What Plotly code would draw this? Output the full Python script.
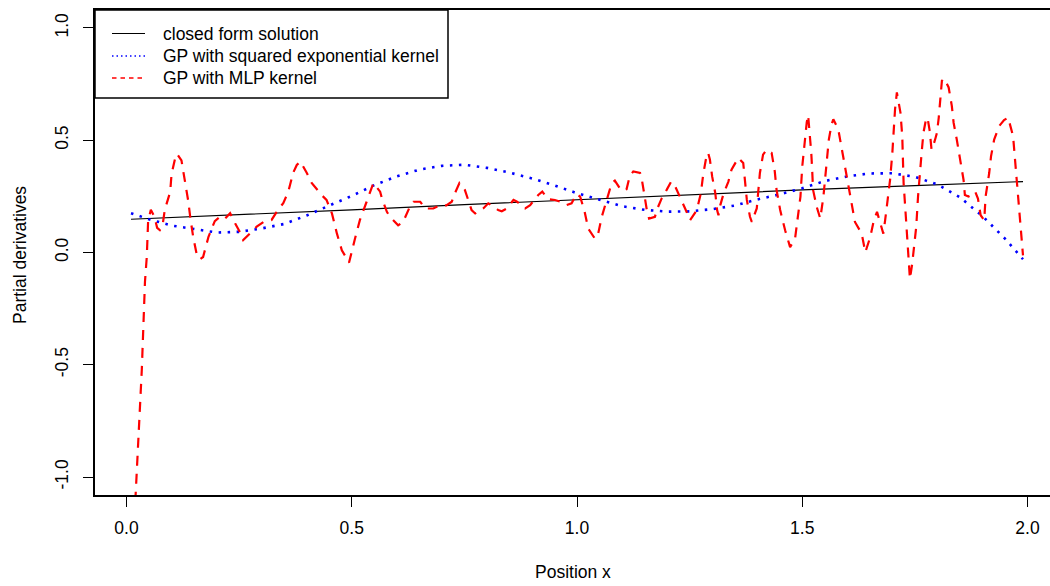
import plotly.graph_objects as go

# ---- data -------------------------------------------------------------
x_closed = [0.01, 0.25, 0.5, 0.75, 1.0, 1.25, 1.5, 1.75, 1.99]
y_closed = [0.148, 0.168, 0.19, 0.213, 0.236, 0.258, 0.279, 0.298, 0.316]

x_se = [0.01, 0.05, 0.10, 0.15, 0.20, 0.25, 0.30, 0.35, 0.40, 0.45, 0.50,
        0.55, 0.60, 0.65, 0.70, 0.75, 0.80, 0.85, 0.90, 0.95, 1.00, 1.05,
        1.10, 1.15, 1.20, 1.25, 1.30, 1.35, 1.40, 1.45, 1.50, 1.55, 1.60,
        1.65, 1.70, 1.75, 1.80, 1.85, 1.90, 1.95, 1.99]
y_se = [0.175, 0.148, 0.120, 0.103, 0.089, 0.092, 0.107, 0.127, 0.165, 0.209,
        0.252, 0.300, 0.339, 0.369, 0.386, 0.391, 0.377, 0.356, 0.330, 0.299,
        0.264, 0.235, 0.206, 0.190, 0.182, 0.183, 0.193, 0.209, 0.236, 0.259,
        0.286, 0.318, 0.339, 0.352, 0.353, 0.337, 0.303, 0.246, 0.162, 0.062,
        -0.030]

x_mlp = [0.012, 0.020, 0.034, 0.041, 0.045, 0.048, 0.054, 0.062, 0.068, 0.074,
         0.080, 0.085, 0.097, 0.100, 0.108, 0.112, 0.122, 0.130, 0.137, 0.142,
         0.148, 0.156, 0.163, 0.170, 0.176, 0.182, 0.196, 0.208, 0.218, 0.230,
         0.241, 0.252, 0.259, 0.274, 0.289, 0.304, 0.322, 0.333, 0.348, 0.359,
         0.370, 0.378, 0.386, 0.400, 0.411, 0.433, 0.444, 0.456, 0.467, 0.478,
         0.489, 0.494, 0.507, 0.518, 0.533, 0.548, 0.563, 0.567, 0.578, 0.585,
         0.603, 0.614, 0.629, 0.637, 0.652, 0.663, 0.681, 0.696, 0.710, 0.722,
         0.729, 0.739, 0.751, 0.759, 0.766, 0.774, 0.792, 0.803, 0.815, 0.825,
         0.833, 0.844, 0.859, 0.867, 0.885, 0.896, 0.914, 0.923, 0.936, 0.951,
         0.965, 0.977, 0.988, 0.999, 1.007, 1.017, 1.025, 1.040, 1.047, 1.055,
         1.066, 1.077, 1.084, 1.095, 1.103, 1.110, 1.117, 1.125, 1.140, 1.144,
         1.149, 1.155, 1.160, 1.173, 1.177, 1.188, 1.199, 1.209, 1.218, 1.229,
         1.240, 1.251, 1.266, 1.275, 1.280, 1.288, 1.291, 1.295, 1.300, 1.307,
         1.311, 1.314, 1.318, 1.325, 1.336, 1.343, 1.358, 1.369, 1.373, 1.377,
         1.384, 1.388, 1.399, 1.402, 1.406, 1.413, 1.421, 1.432, 1.439, 1.443,
         1.451, 1.462, 1.473, 1.484, 1.490, 1.496, 1.500, 1.505, 1.510, 1.513,
         1.517, 1.520, 1.522, 1.524, 1.532, 1.540, 1.547, 1.554, 1.559, 1.565,
         1.569, 1.580, 1.588, 1.595, 1.602, 1.610, 1.617, 1.632, 1.640, 1.651,
         1.659, 1.666, 1.677, 1.680, 1.684, 1.690, 1.695, 1.700, 1.703, 1.706,
         1.710, 1.718, 1.722, 1.723, 1.725, 1.728, 1.731, 1.733, 1.737, 1.739,
         1.744, 1.749, 1.753, 1.757, 1.761, 1.765, 1.769, 1.774, 1.778, 1.783,
         1.787, 1.790, 1.796, 1.799, 1.803, 1.807, 1.810, 1.815, 1.825, 1.832,
         1.836, 1.843, 1.851, 1.858, 1.861, 1.869, 1.876, 1.884, 1.890, 1.896,
         1.904, 1.907, 1.915, 1.919, 1.926, 1.937, 1.948, 1.957, 1.968, 1.972,
         1.976, 1.979, 1.983, 1.987, 1.990]
y_mlp = [-1.35, -1.09, -0.52, -0.13, -0.02, 0.14, 0.19, 0.16, 0.11, 0.10,
         0.12, 0.19, 0.27, 0.35, 0.42, 0.44, 0.41, 0.32, 0.23, 0.15,
         0.07, -0.01, -0.03, -0.02, 0.02, 0.07, 0.14, 0.16, 0.15, 0.175,
         0.13, 0.09, 0.055, 0.085, 0.115, 0.136, 0.145, 0.18, 0.22, 0.27,
         0.355, 0.39, 0.405, 0.355, 0.31, 0.256, 0.234, 0.174, 0.085, 0.01,
         -0.03, -0.045, 0.06, 0.144, 0.226, 0.309, 0.271, 0.241, 0.181, 0.159,
         0.121, 0.136, 0.204, 0.226, 0.226, 0.196, 0.196, 0.211, 0.21, 0.226,
         0.264, 0.309, 0.279, 0.226, 0.189, 0.174, 0.196, 0.219, 0.205, 0.189,
         0.184, 0.196, 0.234, 0.226, 0.196, 0.211, 0.256, 0.271, 0.237, 0.234,
         0.225, 0.211, 0.219, 0.26, 0.249, 0.181, 0.106, 0.061, 0.084, 0.159,
         0.234, 0.309, 0.320, 0.286, 0.274, 0.282, 0.339, 0.361, 0.354, 0.324,
         0.264, 0.189, 0.151, 0.159, 0.189, 0.241, 0.279, 0.316, 0.294, 0.241,
         0.196, 0.144, 0.189, 0.264, 0.346, 0.436, 0.444, 0.414, 0.339, 0.264,
         0.189, 0.166, 0.21, 0.26, 0.316, 0.369, 0.421, 0.399, 0.316, 0.234,
         0.159, 0.136, 0.196, 0.271, 0.354, 0.436, 0.458, 0.444, 0.361, 0.279,
         0.189, 0.099, 0.024, 0.061, 0.144, 0.249, 0.383, 0.489, 0.58, 0.612,
         0.533, 0.444, 0.369, 0.279, 0.204, 0.151, 0.249, 0.399, 0.503, 0.571,
         0.593, 0.548, 0.458, 0.376, 0.294, 0.219, 0.136, 0.084, 0.001, 0.069,
         0.144, 0.181, 0.099, 0.084, 0.144, 0.234, 0.324, 0.444, 0.548, 0.638,
         0.713, 0.623, 0.518, 0.399, 0.309, 0.219, 0.129, 0.039, -0.051, -0.118,
         -0.051, 0.03, 0.114, 0.249, 0.369, 0.444, 0.533, 0.586, 0.601, 0.541,
         0.458, 0.47, 0.511, 0.533, 0.601, 0.683, 0.765, 0.775, 0.735, 0.653,
         0.578, 0.503, 0.414, 0.324, 0.256, 0.249, 0.256, 0.271, 0.24, 0.166,
         0.144, 0.249, 0.354, 0.428, 0.503, 0.563, 0.59, 0.601, 0.518, 0.414,
         0.339, 0.249, 0.159, 0.069, -0.013]

series_names = ["closed form solution",
                "GP with squared exponential kernel",
                "GP with MLP kernel"]
x_ticks = [0.0, 0.5, 1.0, 1.5, 2.0]
y_ticks = [-1.0, -0.5, 0.0, 0.5, 1.0]

# ---- figure geometry (pixels) ----------------------------------------
W, H = 1050, 586
ML, MR, MT, MB = 95, 0, 10, 91
PW, PH = W - ML - MR, H - MT - MB
FONT = "Liberation Sans, Arial, sans-serif"
FS = 17.5


def px_x(p):
    return (p - ML) / PW


def px_y(p):
    return (H - MB - p) / PH


styles = [
    dict(color="black", width=1.2, dash="solid"),
    dict(color="#0000FF", width=2.6, dash="2.5px,6.5px"),
    dict(color="#FF0000", width=2.2, dash="10px,8px"),
]
legend_styles = [
    dict(color="black", width=1.2, dash="solid"),
    dict(color="#0000FF", width=1.3, dash="1.5px,3px"),
    dict(color="#FF0000", width=1.3, dash="4.5px,4px"),
]

fig = go.Figure()
for name, xs, ys, st in zip(series_names,
                            [x_closed, x_se, x_mlp],
                            [y_closed, y_se, y_mlp],
                            styles):
    fig.add_trace(go.Scatter(x=xs, y=ys, mode="lines", name=name,
                             line=st, showlegend=False))

# ---- legend box drawn in the upper-left corner -----------------------
shapes = [dict(type="rect", xref="paper", yref="paper",
               x0=px_x(95), x1=px_x(448), y0=px_y(98), y1=px_y(10),
               line=dict(color="black", width=1.5), fillcolor="white",
               layer="above")]
annotations = []
rows = [33.5, 56, 78]
for name, st, ry in zip(series_names, legend_styles, rows):
    shapes.append(dict(type="line", xref="paper", yref="paper",
                       x0=px_x(112), x1=px_x(145), y0=px_y(ry), y1=px_y(ry),
                       line=st, layer="above"))
    annotations.append(dict(text=name, xref="paper", yref="paper",
                            x=px_x(160.5), y=px_y(ry), xanchor="left",
                            yanchor="middle", showarrow=False,
                            font=dict(family=FONT, size=FS, color="black")))

# axis titles
annotations.append(dict(text="Position x", xref="paper", yref="paper",
                        x=0.5, y=0, yshift=-(572 - (H - MB)),
                        xanchor="center", yanchor="middle", showarrow=False,
                        font=dict(family=FONT, size=FS, color="black")))
annotations.append(dict(text="Partial derivatives", xref="paper", yref="paper",
                        x=0, y=px_y(255), xshift=20 - ML, textangle=-90,
                        xanchor="center", yanchor="middle", showarrow=False,
                        font=dict(family=FONT, size=FS, color="black")))

x0_px = 126.5
unit = 450.5
x_range = [(ML - x0_px) / unit, (W - MR - x0_px) / unit]

fig.update_layout(
    width=W, height=H,
    margin=dict(l=ML, r=MR, t=MT, b=MB, pad=0),
    paper_bgcolor="white", plot_bgcolor="white",
    font=dict(family=FONT, size=FS, color="black"),
    shapes=shapes, annotations=annotations,
    xaxis=dict(range=x_range, tickvals=x_ticks,
               ticktext=[f"{v:.1f}" for v in x_ticks],
               ticks="outside", ticklen=10, tickwidth=1.3, tickcolor="black",
               showline=True, linecolor="black", linewidth=1.5, mirror=True,
               showgrid=False, zeroline=False, ticklabelstandoff=6),
    yaxis=dict(range=[-1.08, 1.08], tickvals=y_ticks,
               ticktext=[f"{v:.1f}" for v in y_ticks], tickangle=-90,
               ticks="outside", ticklen=10, tickwidth=1.3, tickcolor="black",
               showline=True, linecolor="black", linewidth=1.5,
               showgrid=False, zeroline=False, ticklabelstandoff=8),
)

fig.write_html("out.html")
